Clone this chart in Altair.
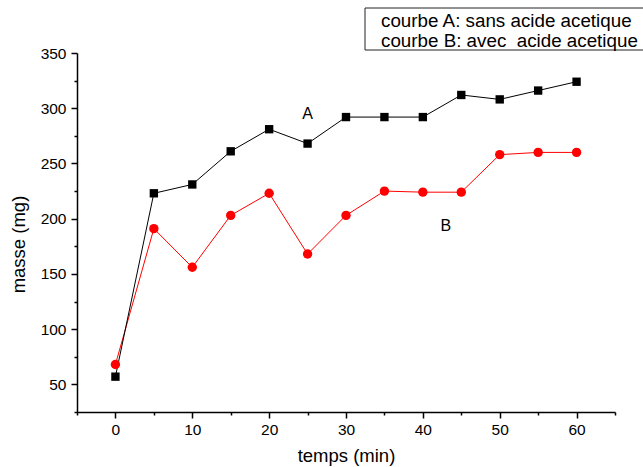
import altair as alt
import pandas as pd

# Mass measured over time, with and without acetic acid
temps = [0, 5, 10, 15, 20, 25, 30, 35, 40, 45, 50, 55, 60]
masse_a = [57, 223, 231, 261, 281, 268, 292, 292, 292, 312, 308, 316, 324]
masse_b = [68, 191, 156, 203, 223, 168, 203, 225, 224, 224, 258, 260, 260]

# Curve labels placed next to each series
etiquettes = ["A", "B"]
etiquette_temps = [25, 43]
etiquette_masse = [295, 193]

# Text of the boxed key
legende = ["courbe A: sans acide acetique", "courbe B: avec\u00a0 acide acetique"]

FONT = "Liberation Sans"

df_a = pd.DataFrame({"temps": temps, "masse": masse_a})
df_b = pd.DataFrame({"temps": temps, "masse": masse_b})
df_lab = pd.DataFrame({"temps": etiquette_temps, "masse": etiquette_masse, "txt": etiquettes})

x_enc = alt.X(
    "temps:Q",
    scale=alt.Scale(domain=[-5, 65], nice=False, zero=False),
    axis=alt.Axis(
        title="temps (min)",
        values=list(range(-5, 66, 5)),
        labelExpr="datum.value % 10 === 0 ? datum.label : ''",
        tickSize={"condition": {"test": "datum.value % 10 === 0", "value": 6}, "value": 3},
        labelPadding=4,
        titlePadding=9,
        grid=False,
    ),
)
y_enc = alt.Y(
    "masse:Q",
    scale=alt.Scale(domain=[25, 350], nice=False, zero=False),
    axis=alt.Axis(
        title="masse (mg)",
        values=list(range(25, 351, 25)),
        labelExpr="datum.value % 50 === 0 ? datum.label : ''",
        tickSize={"condition": {"test": "datum.value % 50 === 0", "value": 6}, "value": 3},
        labelPadding=5,
        titleX=-49,
        titleY=191,
        grid=False,
    ),
)

ligne_a = alt.Chart(df_a).mark_line(color="black", strokeWidth=1).encode(x=x_enc, y=y_enc)
ligne_b = alt.Chart(df_b).mark_line(color="#ff0000", strokeWidth=1).encode(x=x_enc, y=y_enc)
points_a = alt.Chart(df_a).mark_point(
    shape="square", filled=True, color="black", opacity=1, size=70
).encode(x=x_enc, y=y_enc)
points_b = alt.Chart(df_b).mark_point(
    shape="circle", filled=True, color="#ff0000", opacity=1, size=88
).encode(x=x_enc, y=y_enc)

labels = alt.Chart(df_lab).mark_text(
    font=FONT, fontSize=16, color="black", align="center", baseline="middle"
).encode(x=x_enc, y=y_enc, text="txt:N")

# Boxed key above the plot area
cadre = alt.Chart(pd.DataFrame({"k": [0]})).mark_rect(
    fill="white", stroke="#222222", strokeWidth=1, clip=False
).encode(
    x=alt.value(288), x2=alt.value(575), y=alt.value(-45), y2=alt.value(-3)
)
texte1 = alt.Chart(pd.DataFrame({"t": [legende[0]]})).mark_text(
    font=FONT, fontSize=18.8, color="black", align="left", baseline="alphabetic", clip=False
).encode(x=alt.value(304), y=alt.value(-26), text="t:N")
texte2 = alt.Chart(pd.DataFrame({"t": [legende[1]]})).mark_text(
    font=FONT, fontSize=18.8, color="black", align="left", baseline="alphabetic", clip=False
).encode(x=alt.value(304), y=alt.value(-6), text="t:N")

chart = (
    alt.layer(cadre, texte1, texte2, ligne_b, ligne_a, points_b, points_a, labels)
    .properties(
        width=538,
        height=359,
        autosize=alt.AutoSizeParams(type="none"),
        padding={"left": 77, "top": 53, "right": 28, "bottom": 55},
        background="white",
    )
    .configure_view(stroke=None)
    .configure_axis(
        domainColor="black",
        domainWidth=1.5,
        tickColor="black",
        tickWidth=1.5,
        labelColor="black",
        titleColor="black",
        labelFont=FONT,
        titleFont=FONT,
        labelFontSize=15.5,
        titleFontSize=18.5,
        titleFontWeight="normal",
    )
)

chart.save("out.html", embed_options={"renderer": "svg", "actions": False})
